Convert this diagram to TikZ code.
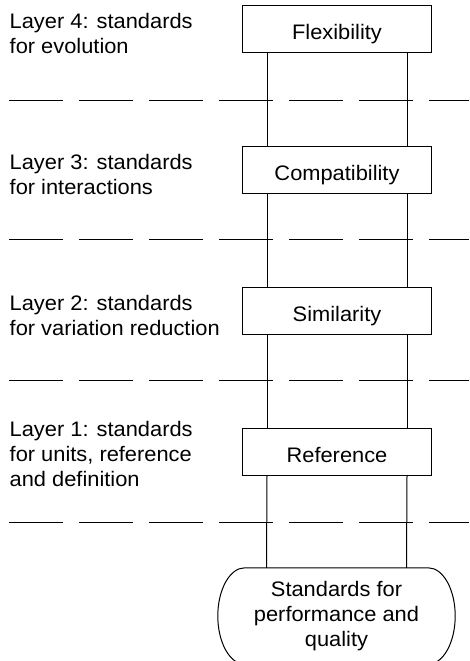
\documentclass[tikz,border=0pt]{standalone}
\usepackage{fontspec}
\setmainfont{Liberation Sans}[FakeStretch=1.04]
\usetikzlibrary{calc}

\begin{document}
\begin{tikzpicture}[x=1pt,y=-1pt,
  txt/.style={font=\fontsize{21}{25}\selectfont},
  stagebox/.style={txt, draw, line width=1pt, minimum width=188.5pt,
    minimum height=47pt, inner sep=0pt, text height=21pt, text depth=0pt},
  layerlabel/.style={txt, anchor=base west, align=left, inner sep=0pt},
  layersep/.style={line width=1pt, dash pattern=on 54pt off 16pt},
  rail/.style={line width=1pt}]
\useasboundingbox (0,0) rectangle (469,661);
\clip (0,0) rectangle (469,661);

% layer separators
\foreach \yy in {100,239,380,522}
  \draw[layersep] (9,\yy) -- (469,\yy);

% layer descriptions (placed by the baseline of their last line)
\node[layerlabel] (l4) at (9.5,53.5) {Layer 4: standards\\for evolution};
\node[layerlabel] (l3) at (9.5,194) {Layer 3: standards\\for interactions};
\node[layerlabel] (l2) at (9.5,335) {Layer 2: standards\\for variation reduction};
\node[layerlabel] (l1) at (9.5,486) {Layer 1: standards\\for units, reference\\and definition};

% stages of the ladder
\node[stagebox] (flex) at (337,29)  {Flexibility};
\node[stagebox] (comp) at (337,170) {Compatibility};
\node[stagebox] (sim)  at (337,311) {Similarity};
\node[stagebox] (ref)  at (337,452) {Reference};

% base of the ladder
\node[txt, align=center, minimum width=237pt, minimum height=96pt, inner sep=0pt]
  (perf) at (336.5,616) {Standards for\\performance and\\quality};
\draw[rail] ($(perf.north west)+(27,0)$) -- ($(perf.north east)+(-27,0)$)
  .. controls +(15,0) and +(0,-26.5) .. (perf.east)
  .. controls +(0,26.5) and +(15,0) .. ($(perf.south east)+(-27,0)$)
  -- ($(perf.south west)+(27,0)$)
  .. controls +(-15,0) and +(0,26.5) .. (perf.west)
  .. controls +(0,-26.5) and +(-15,0) .. cycle;

% rails between the stages
\foreach \a/\b in {flex/comp,comp/sim,sim/ref,ref/perf}{
  \draw[rail] ($(\a.south)+(-70,0)$) -- ($(\b.north)+(-70,0)$);
  \draw[rail] ($(\a.south)+(70,0)$) -- ($(\b.north)+(70,0)$);
}
\end{tikzpicture}
\end{document}
